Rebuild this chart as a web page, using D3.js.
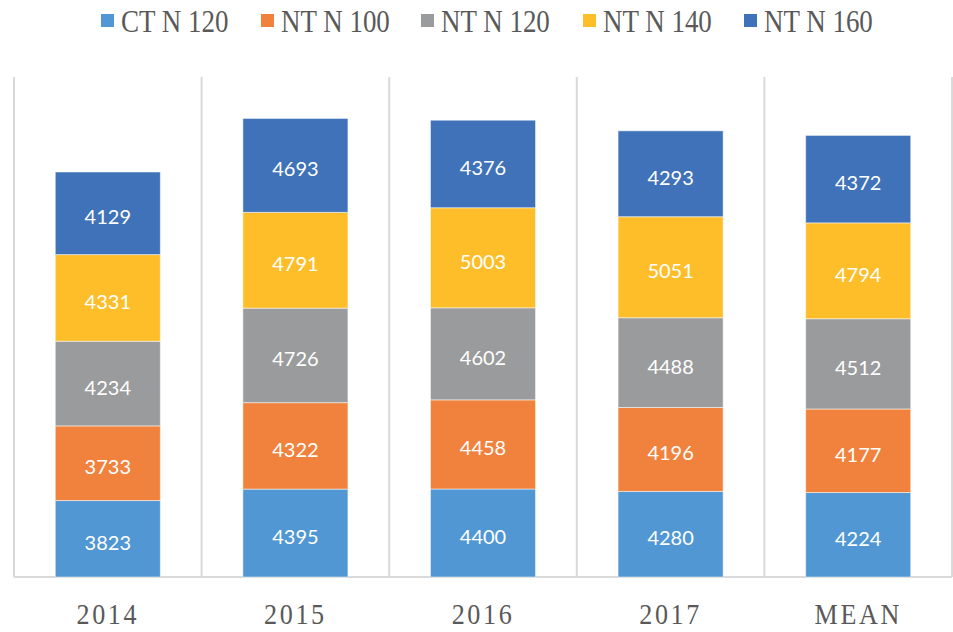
<!DOCTYPE html>
<html>
<head>
<meta charset="utf-8">
<script src="https://cdn.jsdelivr.net/npm/d3@7"></script>
<style>
  body { margin:0; background:#fff; }
  svg { display:block; }
</style>
</head>
<body>
<svg></svg>
<script>
const WIDTH = 953
const HEIGHT = 632
const categories = ['2014','2015','2016','2017','MEAN']
const seriesNames = ['CT N 120','NT N 100','NT N 120','NT N 140','NT N 160']
const ctN120 = [3823,4395,4400,4280,4224]
const ntN100 = [3733,4322,4458,4196,4177]
const ntN120 = [4234,4726,4602,4488,4512]
const ntN140 = [4331,4791,5003,5051,4794]
const ntN160 = [4129,4693,4376,4293,4372]
const colors = ['#5097D3','#F0823D','#9A9B9C','#FDBE2A','#3F72B8']

const margin = {left:14, right:1, top:77, bottom:55}
const svg = d3.select('svg')
  .attr('width',WIDTH)
  .attr('height',HEIGHT)

const table = categories.map((c,i) => ({
  cat:c,
  'CT N 120':ctN120[i],
  'NT N 100':ntN100[i],
  'NT N 120':ntN120[i],
  'NT N 140':ntN140[i],
  'NT N 160':ntN160[i]
}))
const stacked = d3.stack().keys(seriesNames)(table)

const x = d3.scaleBand()
  .domain(categories)
  .range([margin.left, WIDTH-margin.right])
  .paddingInner(0.44)
  .paddingOuter(0.22)
const y = d3.scaleLinear()
  .domain([0,25000])
  .range([HEIGHT-margin.bottom, margin.top])

// category separators
const bounds = d3.range(categories.length+1).map(i => margin.left + i*(WIDTH-margin.left-margin.right)/categories.length)
svg.append('g').selectAll('line')
  .data(bounds)
  .enter().append('line')
  .attr('x1',d => d).attr('x2',d => d)
  .attr('y1',y(25000)).attr('y2',y(0))
  .attr('stroke','#d9d9d9')
  .attr('stroke-width',2)

svg.append('line')
  .attr('x1',margin.left).attr('x2',WIDTH-margin.right)
  .attr('y1',y(0)).attr('y2',y(0))
  .attr('stroke','#d9d9d9')
  .attr('stroke-width',2)

const layers = svg.append('g').selectAll('g')
  .data(stacked)
  .enter().append('g')
  .attr('fill',(d,i) => colors[i])

layers.selectAll('rect')
  .data(d => d)
  .enter().append('rect')
  .attr('x',d => x(d.data.cat))
  .attr('width',x.bandwidth())
  .attr('y',d => y(d[1]))
  .attr('height',d => y(d[0])-y(d[1]))
  .attr('stroke','#ffffff')
  .attr('stroke-opacity',0.5)
  .attr('stroke-width',1)

layers.selectAll('text')
  .data(d => d)
  .enter().append('text')
  .attr('x',d => x(d.data.cat)+x.bandwidth()/2)
  .attr('y',d => (y(d[0])+y(d[1]))/2 + 3)
  .attr('text-anchor','middle')
  .attr('dominant-baseline','central')
  .attr('fill','#ffffff')
  .style('font-family','Lato, "Open Sans", sans-serif')
  .style('font-size','20px')
  .text(d => d[1]-d[0])

// x axis labels (narrow serif like the original)
svg.append('g').selectAll('text')
  .data(categories)
  .enter().append('text')
  .attr('transform',d => `translate(${x(d)+x.bandwidth()/2},614) scale(0.87,1)`)
  .attr('text-anchor','middle')
  .attr('dominant-baseline','central')
  .attr('fill','#595959')
  .style('font-family','"Liberation Serif", "Times New Roman", serif')
  .style('font-size','30px')
  .style('letter-spacing','3px')
  .text(d => d)

// legend
const legendX = [101,261,421,583,744]
const legend = svg.append('g').selectAll('g')
  .data(seriesNames)
  .enter().append('g')
  .attr('transform',(d,i) => `translate(${legendX[i]},21)`)
legend.append('rect')
  .attr('x',0).attr('y',-7)
  .attr('width',13).attr('height',13)
  .attr('fill',(d,i) => colors[i])
legend.append('text')
  .attr('transform','translate(20,0) scale(0.87,1)')
  .attr('dominant-baseline','central')
  .attr('fill','#595959')
  .style('font-family','"Liberation Serif", "Times New Roman", serif')
  .style('font-size','31px')
  .text(d => d)
</script>
</body>
</html>
